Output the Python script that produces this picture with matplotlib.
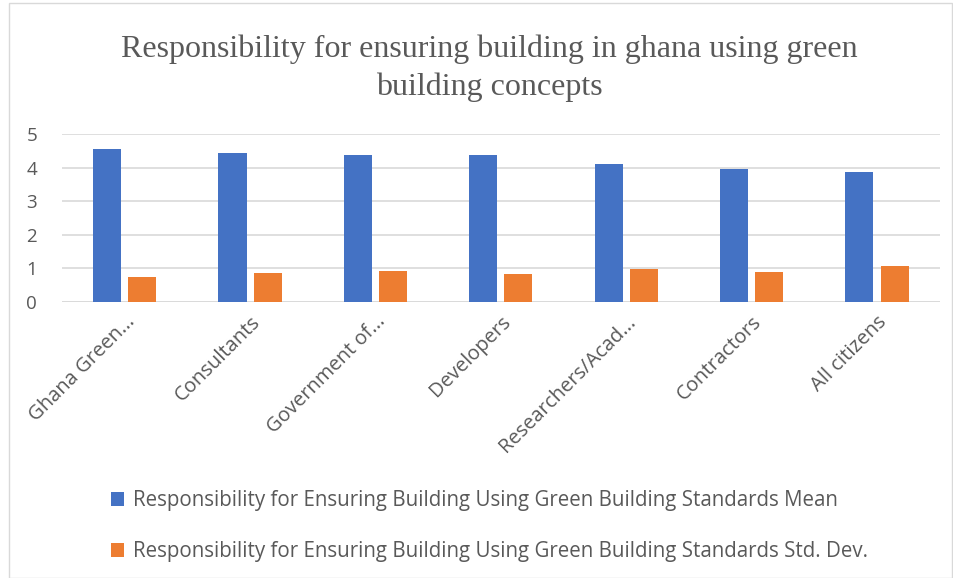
import matplotlib.pyplot as plt
import numpy as np
from matplotlib.patches import Rectangle

categories = ['Ghana Green...', 'Consultants', 'Government of...', 'Developers',
              'Researchers/Acad...', 'Contractors', 'All citizens']
mean_vals = [4.57, 4.45, 4.38, 4.37, 4.11, 3.97, 3.87]
std_vals = [0.75, 0.87, 0.93, 0.82, 0.97, 0.89, 1.07]
series_names = ['Responsibility for Ensuring Building Using Green Building Standards Mean',
                'Responsibility for Ensuring Building Using Green Building Standards Std. Dev.']

blue = '#4472c4'
orange = '#ed7d31'
txt = '#595959'
sans = ['Open Sans', 'DejaVu Sans']

fig = plt.figure(figsize=(9.54, 5.78), dpi=100)
ax = fig.add_axes([0.065, 0.4775, 0.92, 0.2905])

x = np.arange(len(categories))
w = 0.224
gap = 0.056
ax.bar(x - (w + gap) / 2, mean_vals, w, color=blue, label=series_names[0], zorder=3)
ax.bar(x + (w + gap) / 2, std_vals, w, color=orange, label=series_names[1], zorder=3)

ax.set_xlim(-0.5, len(categories) - 0.5)
ax.set_ylim(0, 5)
ax.set_yticks(range(6))
ax.yaxis.grid(True, color='#d9d9d9', linewidth=1.2, zorder=0)
for s in ax.spines.values():
    s.set_visible(False)
ax.axhline(0, color='#d9d9d9', linewidth=1.2, zorder=2)
ax.tick_params(axis='both', length=0, colors=txt)
ax.tick_params(axis='y', labelsize=13.5, pad=18)
ax.set_xticks(x)
ax.set_xticklabels(categories, rotation=45, ha='right', rotation_mode='anchor',
                   fontsize=14.5, color=txt, family=sans)
for lab in ax.get_yticklabels():
    lab.set_family(sans)
ax.tick_params(axis='x', pad=7)

fig.text(0.513, 0.94, 'Responsibility for ensuring building in ghana using green\nbuilding concepts',
         ha='center', va='top', fontsize=23, color=txt, family='Liberation Serif',
         linespacing=1.35)

leg = fig.legend(loc='upper left', bbox_to_anchor=(0.097, 0.184), frameon=False,
                 ncol=1, labelcolor=txt, handlelength=0.62, handleheight=0.62,
                 handletextpad=0.45, labelspacing=1.47, prop={'family': sans, 'size': 14.8})

fig.patches.append(Rectangle((0.009, 0.0), 0.989, 0.995, transform=fig.transFigure,
                             fill=False, edgecolor='#d9d9d9', linewidth=1))

fig.savefig('out.png', dpi=100)
